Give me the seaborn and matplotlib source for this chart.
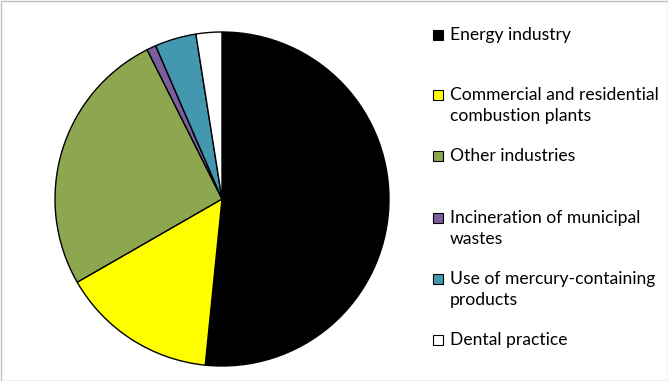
import matplotlib
matplotlib.use("Agg")
import matplotlib.pyplot as plt
import seaborn as sns
from matplotlib.patches import Rectangle

sns.set_theme(style="white")
plt.rcParams['font.family'] = ['Lato', 'DejaVu Sans']

categories = ["Energy industry", "Commercial and residential\ncombustion plants",
              "Other industries", "Incineration of municipal\nwastes",
              "Use of mercury-containing\nproducts", "Dental practice"]
shares = [51.6, 15.1, 25.9, 0.9, 4.0, 2.5]
colors = ["#000000", "#FFFF00", "#8DA751", "#7A5E9E", "#4397AF", "#FFFFFF"]

W, H = 668, 381
fig = plt.figure(figsize=(W / 100, H / 100), dpi=100)
fig.patch.set_facecolor("white")

cx, cy, r = 222, 199, 167
ax = fig.add_axes([(cx - r) / W, (H - cy - r) / H, 2 * r / W, 2 * r / H])
ax.pie(shares, colors=colors, startangle=90, counterclock=False,
       wedgeprops=dict(edgecolor="black", linewidth=1.0))
ax.set_xlim(-1, 1)
ax.set_ylim(-1, 1)
ax.set_aspect("equal")
ax.axis("off")

# legend
legend_y = [35, 95, 156, 218, 279, 340]
mx, tx = 438, 450
for lab, col, y in zip(categories, colors, legend_y):
    fig.patches.append(Rectangle(((mx - 5) / W, (H - y - 5) / H), 10 / W, 10 / H,
                                 transform=fig.transFigure, facecolor=col,
                                 edgecolor="black", linewidth=0.8))
    fig.text(tx / W, (H - y + 8) / H, lab, ha="left", va="top", fontsize=12.6,
             color="black", linespacing=1.42)

# outer border
fig.patches.append(Rectangle((0.5 / W, 0.5 / H), (W - 1) / W, (H - 1) / H,
                             transform=fig.transFigure, fill=False,
                             edgecolor="#BFBFBF", linewidth=1))

fig.savefig("out.png", dpi=100)
